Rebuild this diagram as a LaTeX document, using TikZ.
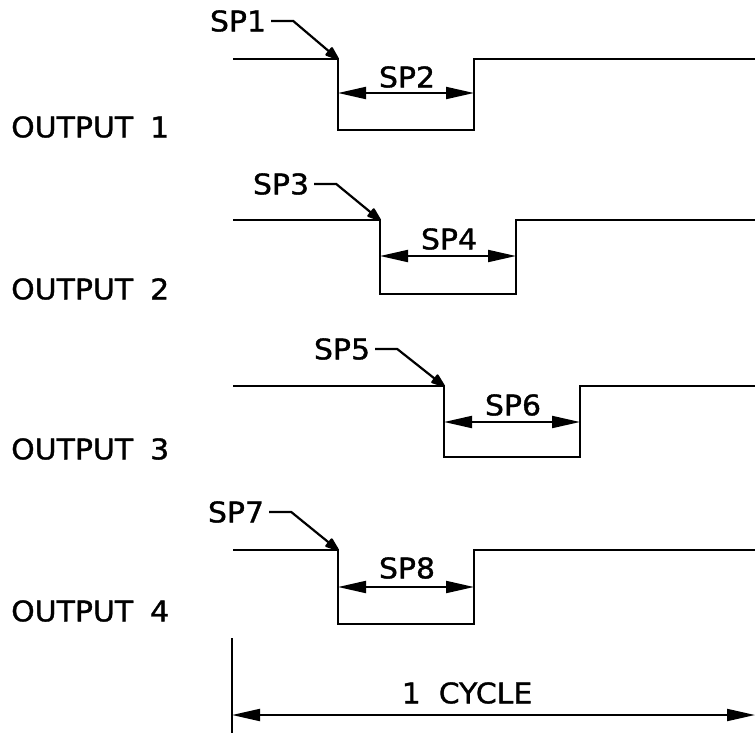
\documentclass[tikz,border=0pt]{standalone}
\usepackage{fontspec}
\newfontfamily\cadfont[FakeBold=1.2,FakeStretch=1.05]{DejaVu Sans}
\usetikzlibrary{arrows.meta}
\begin{document}
\begin{tikzpicture}[x=1pt,y=-1pt,
  wave/.style={line width=2.2pt},
  lbl/.style={font=\cadfont\fontsize{28.5}{30}\selectfont, inner sep=2pt},
  dimarrow/.style={line width=2pt,{Triangle[length=28pt,width=12pt]}-{Triangle[length=28pt,width=12pt]}},
  leader/.style={line width=2.2pt,-{Triangle[length=16pt,width=11pt,round]}, shorten >=-1pt}]
\useasboundingbox (0,0) rectangle (755,734);

% ---------- Output 1
\coordinate (a1) at (233,59);
\coordinate (f1) at (338,59);
\coordinate (l1) at (338,130);
\coordinate (m1) at (474,130);
\coordinate (r1) at (474,59);
\coordinate (e1) at (755,59);
\draw[wave] (a1) -- (f1) -- (l1) -- (m1) -- (r1) -- (e1);
\coordinate (d1a) at (338,93);
\coordinate (d1b) at (474,93);
\draw[dimarrow] (d1a) -- (d1b);
\node[lbl] (sp1) at (238,21) {SP1};
\node[lbl] (sp2) at (407,77) {SP2};
\draw[leader] ([xshift=3pt]sp1.east) -- ++(22,0) -- (f1);
\node[lbl, anchor=west] (o1) at (9,127) {OUTPUT\hspace{17pt}1};

% ---------- Output 2
\coordinate (a2) at (233,220);
\coordinate (f2) at (380,220);
\coordinate (l2) at (380,294);
\coordinate (m2) at (516,294);
\coordinate (r2) at (516,220);
\coordinate (e2) at (755,220);
\draw[wave] (a2) -- (f2) -- (l2) -- (m2) -- (r2) -- (e2);
\coordinate (d2a) at (380,256);
\coordinate (d2b) at (516,256);
\draw[dimarrow] (d2a) -- (d2b);
\node[lbl] (sp3) at (281,184) {SP3};
\node[lbl] (sp4) at (449,239) {SP4};
\draw[leader] ([xshift=3pt]sp3.east) -- ++(22,0) -- (f2);
\node[lbl, anchor=west] (o2) at (9,289) {OUTPUT\hspace{17pt}2};

% ---------- Output 3
\coordinate (a3) at (233,386);
\coordinate (f3) at (444,386);
\coordinate (l3) at (444,457);
\coordinate (m3) at (580,457);
\coordinate (r3) at (580,386);
\coordinate (e3) at (755,386);
\draw[wave] (a3) -- (f3) -- (l3) -- (m3) -- (r3) -- (e3);
\coordinate (d3a) at (444,422);
\coordinate (d3b) at (580,422);
\draw[dimarrow] (d3a) -- (d3b);
\node[lbl] (sp5) at (342,349) {SP5};
\node[lbl] (sp6) at (513,405) {SP6};
\draw[leader] ([xshift=3pt]sp5.east) -- ++(22,0) -- (f3);
\node[lbl, anchor=west] (o3) at (9,449) {OUTPUT\hspace{17pt}3};

% ---------- Output 4
\coordinate (a4) at (233,550);
\coordinate (f4) at (338,550);
\coordinate (l4) at (338,624);
\coordinate (m4) at (474,624);
\coordinate (r4) at (474,550);
\coordinate (e4) at (755,550);
\draw[wave] (a4) -- (f4) -- (l4) -- (m4) -- (r4) -- (e4);
\coordinate (d4a) at (338,587);
\coordinate (d4b) at (474,587);
\draw[dimarrow] (d4a) -- (d4b);
\node[lbl] (sp7) at (236,512) {SP7};
\node[lbl] (sp8) at (407,568) {SP8};
\draw[leader] ([xshift=3pt]sp7.east) -- ++(22,0) -- (f4);
\node[lbl, anchor=west] (o4) at (9,611) {OUTPUT\hspace{17pt}4};

% ---------- Cycle
\coordinate (t0) at (232,638);
\coordinate (t1) at (232,733);
\draw[line width=2pt] (t0) -- (t1);
\coordinate (c0) at (232,715);
\coordinate (c1) at (755,715);
\draw[dimarrow] (c0) -- (c1);
\node[lbl] (cyc) at (467,693) {1\hspace{18pt}CYCLE};
\end{tikzpicture}
\end{document}
